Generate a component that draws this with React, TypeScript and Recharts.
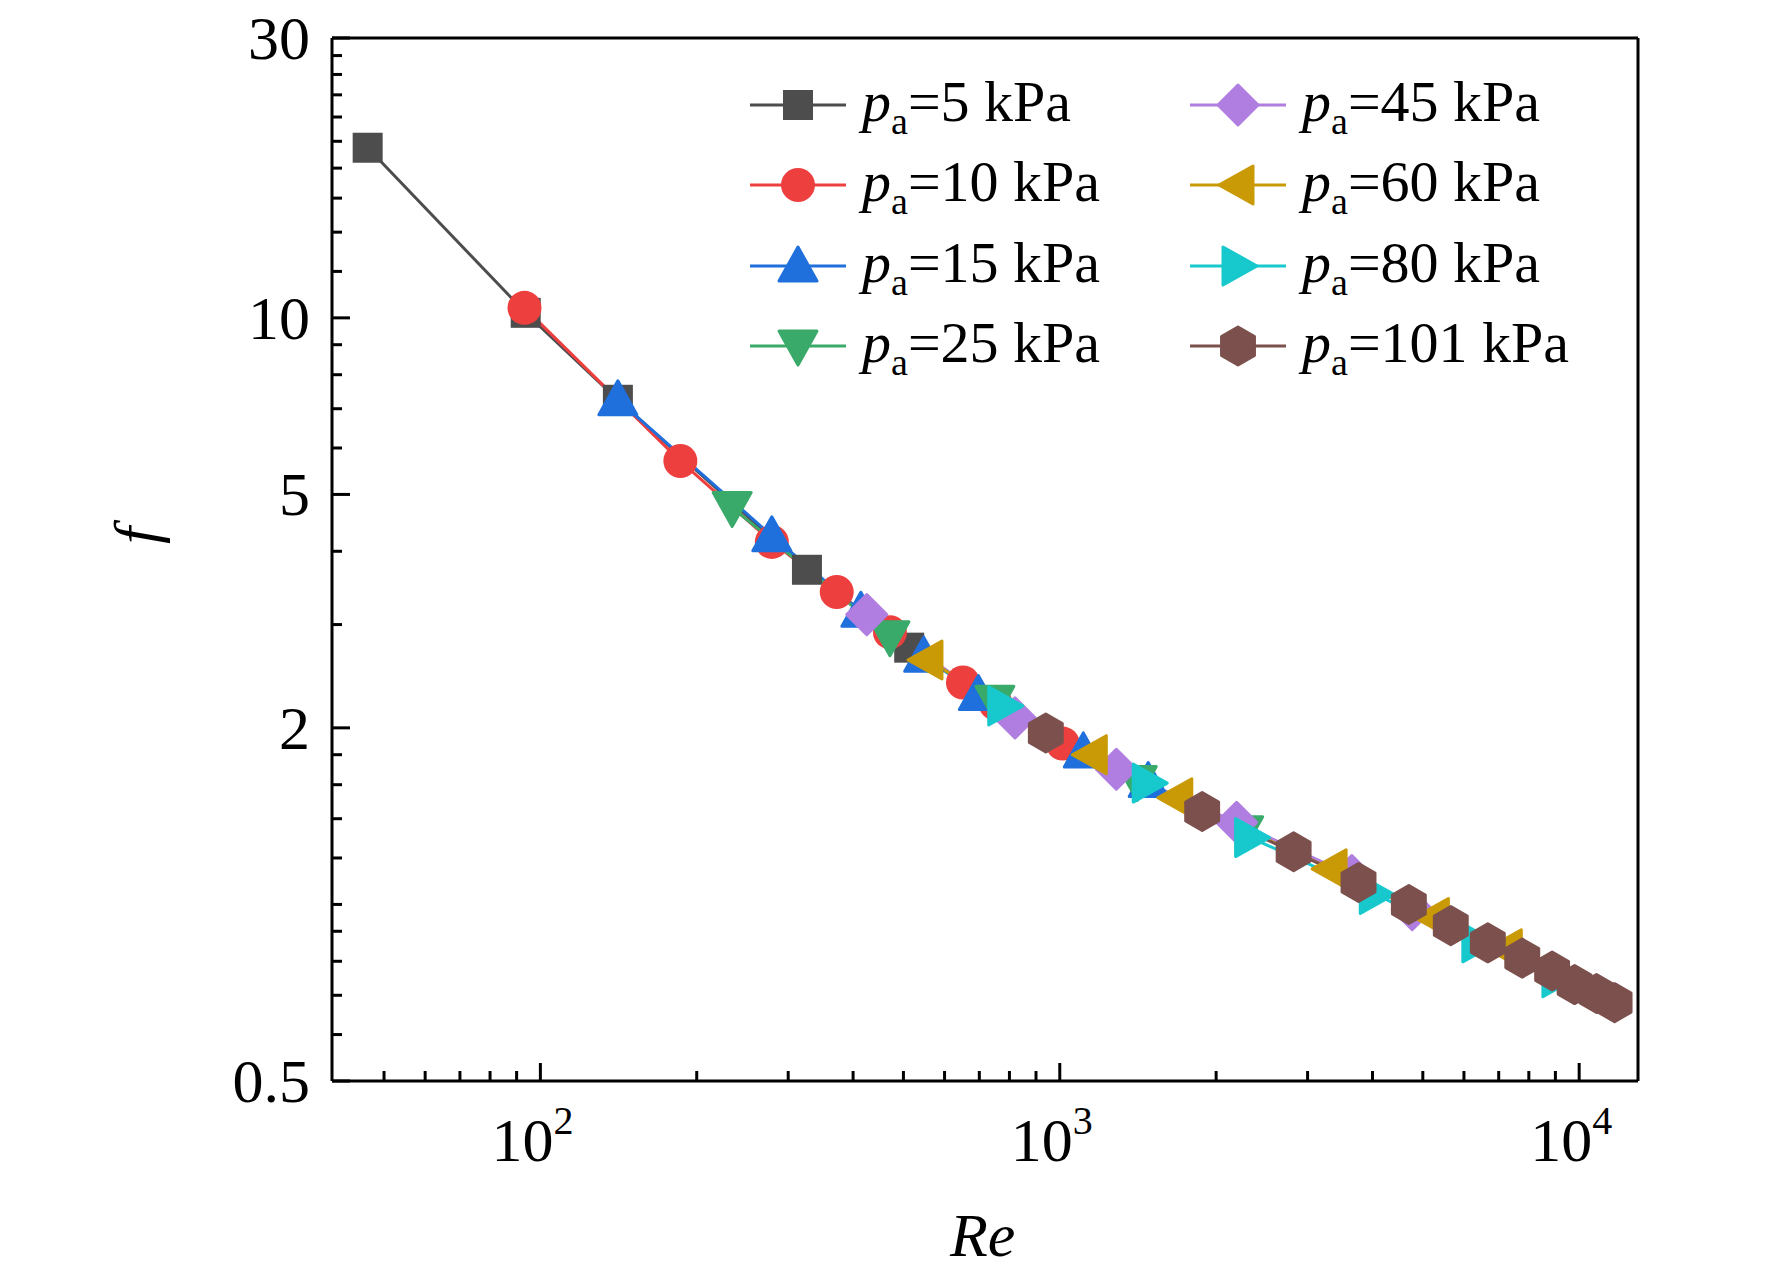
import { LineChart, Line, XAxis, YAxis, ReferenceLine } from "recharts";

const re5 = [46.5, 93.7, 141, 326, 513];
const f5 = [19.5, 10.2, 7.25, 3.72, 2.74];
const re10 = [93.2, 186, 279, 372, 471, 651, 752, 1013];
const f10 = [10.4, 5.7, 4.15, 3.41, 2.91, 2.39, 2.2, 1.88];
const re15 = [141, 279, 414, 547, 697, 1110, 1480];
const f15 = [7.25, 4.25, 3.16, 2.65, 2.28, 1.82, 1.62];
const re25 = [234, 471, 750, 1410, 2260];
const f25 = [4.75, 2.86, 2.22, 1.62, 1.33];
const re45 = [425, 820, 1285, 2190, 3650, 4770];
const f45 = [3.12, 2.08, 1.7, 1.38, 1.12, 0.98];
const re60 = [555, 1150, 1680, 3330, 5240, 7240];
const f60 = [2.61, 1.8, 1.52, 1.15, 0.95, 0.84];
const re80 = [780, 1480, 2330, 4050, 6380, 9100];
const f80 = [2.18, 1.61, 1.3, 1.04, 0.86, 0.75];
const re101 = [940, 1880, 2820, 3760, 4700, 5660, 6670, 7770, 8870, 9800, 10800, 11700];
const f101 = [1.96, 1.44, 1.23, 1.09, 1.0, 0.92, 0.86, 0.81, 0.77, 0.73, 0.705, 0.68];

const xMajor = [100, 1000, 10000];
const xMinor = [50, 60, 70, 80, 90, 200, 300, 400, 500, 600, 700, 800, 900, 2000, 3000, 4000, 5000, 6000, 7000, 8000, 9000];
const yMajor = [0.5, 2, 5, 10, 30];
const yMinor = [0.6, 0.7, 0.8, 0.9, 1, 1.2, 1.4, 1.6, 1.8, 3, 4, 6, 7, 8, 9, 12, 14, 16, 18, 20, 22, 24, 26, 28];

const zip = (xs: number[], ys: number[]) => xs.map((x, i) => ({ re: x, f: ys[i] }));

type Shape = "square" | "circle" | "up" | "down" | "diamond" | "left" | "right" | "hex";

function Marker({ cx, cy, shape, color }: { cx: number; cy: number; shape: Shape; color: string }) {
  const s = 17;
  const poly = (pts: string) => <polygon points={pts} fill={color} strokeLinejoin="round" stroke={color} strokeWidth={3} />;
  switch (shape) {
    case "square":
      return <rect x={cx - 15} y={cy - 15} width={30} height={30} fill={color} />;
    case "circle":
      return <circle cx={cx} cy={cy} r={17} fill={color} />;
    case "up":
      return poly(`${cx},${cy - s - 2} ${cx + s + 2},${cy + s - 2} ${cx - s - 2},${cy + s - 2}`);
    case "down":
      return poly(`${cx},${cy + s + 2} ${cx + s + 2},${cy - s + 2} ${cx - s - 2},${cy - s + 2}`);
    case "left":
      return poly(`${cx - s - 2},${cy} ${cx + s - 2},${cy - s - 2} ${cx + s - 2},${cy + s + 2}`);
    case "right":
      return poly(`${cx + s + 2},${cy} ${cx - s + 2},${cy - s - 2} ${cx - s + 2},${cy + s + 2}`);
    case "diamond":
      return poly(`${cx},${cy - 20} ${cx + 20},${cy} ${cx},${cy + 20} ${cx - 20},${cy}`);
    case "hex": {
      const pts = [0, 1, 2, 3, 4, 5]
        .map((i) => {
          const a = (Math.PI / 3) * i + Math.PI / 6;
          return `${cx + 19 * Math.cos(a)},${cy + 19 * Math.sin(a)}`;
        })
        .join(" ");
      return poly(pts);
    }
  }
}

const series = [
  { name: "5", color: "#4d4d4d", shape: "square" as Shape, data: zip(re5, f5) },
  { name: "10", color: "#ee3f3f", shape: "circle" as Shape, data: zip(re10, f10) },
  { name: "15", color: "#1f6fdc", shape: "up" as Shape, data: zip(re15, f15) },
  { name: "25", color: "#3aaa6a", shape: "down" as Shape, data: zip(re25, f25) },
  { name: "45", color: "#b07ee0", shape: "diamond" as Shape, data: zip(re45, f45) },
  { name: "60", color: "#c99a06", shape: "left" as Shape, data: zip(re60, f60) },
  { name: "80", color: "#17c8cc", shape: "right" as Shape, data: zip(re80, f80) },
  { name: "101", color: "#7b504d", shape: "hex" as Shape, data: zip(re101, f101) },
];

const font = "'Liberation Serif', 'Times New Roman', serif";

function XTick(props: any) {
  const { x, y, payload } = props;
  const major = xMajor.includes(payload.value);
  const exp = Math.round(Math.log10(payload.value));
  return (
    <g>
      <line x1={x} x2={x} y1={y} y2={y - (major ? 18 : 10)} stroke="#000" strokeWidth={3} />
      {major && (
        <text x={x - 8} y={y + 80} textAnchor="middle" fontFamily={font} fontSize={62} fill="#000">
          10<tspan dy={-27} fontSize={40}>{exp}</tspan>
        </text>
      )}
    </g>
  );
}

function YTick(props: any) {
  const { x, y, payload } = props;
  const major = yMajor.includes(payload.value);
  return (
    <g>
      <line x1={x} x2={x + (major ? 18 : 10)} y1={y} y2={y} stroke="#000" strokeWidth={3} />
      {major && (
        <text x={x - 22} y={y + 21} textAnchor="end" fontFamily={font} fontSize={62} fill="#000">
          {payload.value}
        </text>
      )}
    </g>
  );
}

function LegendItem({ s, left, top }: { s: (typeof series)[number]; left: number; top: number }) {
  return (
    <div style={{ position: "absolute", left, top, display: "flex", alignItems: "center", fontFamily: font, fontSize: 58, whiteSpace: "nowrap" }}>
      <svg width={100} height={50}>
        <line x1={2} x2={98} y1={25} y2={25} stroke={s.color} strokeWidth={3} />
        <Marker cx={50} cy={25} shape={s.shape} color={s.color} />
      </svg>
      <span style={{ marginLeft: 14 }}>
        <i>p</i>
        <sub style={{ fontSize: 38 }}>a</sub>={s.name} kPa
      </span>
    </div>
  );
}

export default function App() {
  return (
    <div style={{ position: "absolute", left: 0, top: 0, width: 1772, height: 1273, background: "#fff" }}>
      <LineChart width={1772} height={1273} margin={{ top: 38, right: 134, left: 0, bottom: 0 }}>
        <XAxis
          dataKey="re"
          type="number"
          scale="log"
          domain={[39.7, 12980]}
          allowDataOverflow
          ticks={[...xMinor, ...xMajor].sort((a, b) => a - b)}
          tick={<XTick />}
          tickLine={false}
          tickSize={0}
          tickMargin={0}
          interval={0}
          height={192}
          axisLine={{ stroke: "#000", strokeWidth: 3 }}
        />
        <YAxis
          dataKey="f"
          type="number"
          scale="log"
          domain={[0.5, 30]}
          allowDataOverflow
          ticks={[...yMinor, ...yMajor].sort((a, b) => a - b)}
          tick={<YTick />}
          tickLine={false}
          tickSize={0}
          tickMargin={0}
          interval={0}
          width={332}
          axisLine={{ stroke: "#000", strokeWidth: 3 }}
        />
        <ReferenceLine y={30} stroke="#000" strokeWidth={3} />
        <ReferenceLine x={12980} stroke="#000" strokeWidth={3} />
        {series.map((s) => (
          <Line
            key={s.name}
            data={s.data}
            dataKey="f"
            stroke={s.color}
            strokeWidth={3}
            isAnimationActive={false}
            dot={(p: any) => <Marker key={`${s.name}-${p.index}`} cx={p.cx} cy={p.cy} shape={s.shape} color={s.color} />}
            activeDot={false}
          />
        ))}
      </LineChart>
      {series.map((s, i) => (
        <LegendItem key={s.name} s={s} left={i < 4 ? 748 : 1188} top={[68, 148, 229, 309][i % 4]} />
      ))}
      <div style={{ position: "absolute", left: 950, top: 1200, fontFamily: font, fontSize: 62, fontStyle: "italic" }}>Re</div>
      <div style={{ position: "absolute", left: 128, top: 500, fontFamily: font, fontSize: 62, fontStyle: "italic", transform: "rotate(-90deg)" }}>f</div>
    </div>
  );
}
